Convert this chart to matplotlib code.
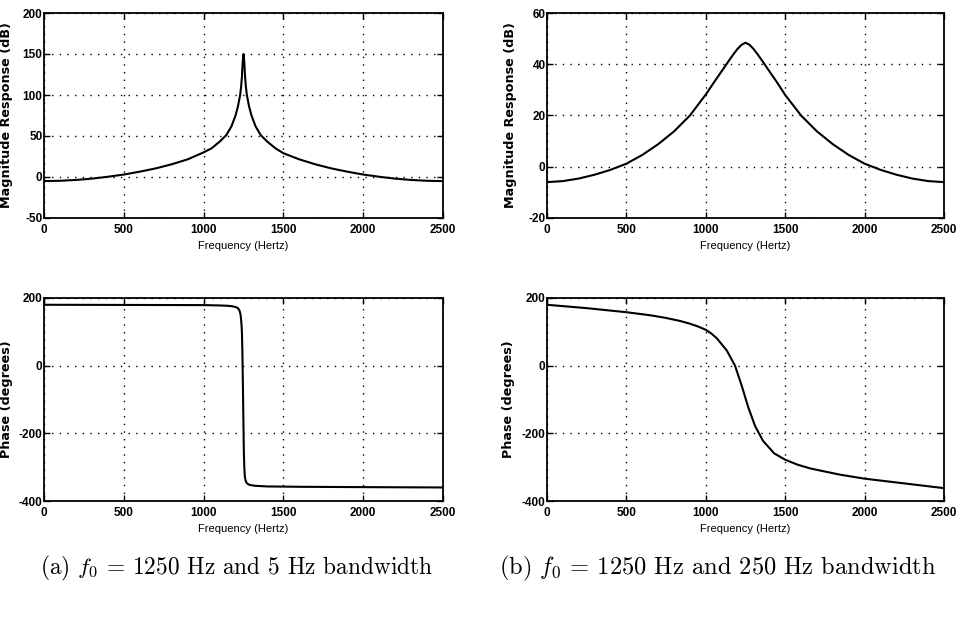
import matplotlib
matplotlib.use("Agg")
import matplotlib.pyplot as plt

# Frequency response of two resonators, f0 = 1250 Hz
freq_mag_a = [0, 100, 200, 300, 400, 500, 600, 700, 800, 900, 1000, 1050, 1100, 1142,
              1175, 1200, 1215, 1229, 1235, 1240, 1245, 1250, 1255, 1260, 1265, 1271,
              1285, 1300, 1325, 1358, 1400, 1450, 1500, 1600, 1700, 1800, 1900, 2000,
              2100, 2200, 2300, 2400, 2500]
mag_a = [-5, -4.6, -3.6, -2, 0.3, 3, 6.5, 10.5, 15.5, 21.5, 30, 35, 43, 51,
         62, 75, 86, 100, 110, 122, 140, 150, 140, 122, 110, 100,
         86, 75, 62, 51, 43, 35, 29, 21.5, 15.5, 10.5, 6.5, 3,
         0.3, -2, -3.6, -4.6, -5]

freq_phase_a = [0, 500, 1000, 1100, 1150, 1180, 1200, 1215, 1225, 1232, 1237, 1240,
                1243, 1246, 1249, 1252, 1255, 1258, 1262, 1270, 1285, 1320, 1400,
                1600, 2000, 2500]
phase_a = [180, 179.5, 179, 178, 177, 175.5, 173.5, 170, 163, 150, 125, 100,
           40, -50, -150, -250, -300, -325, -338, -347, -352, -355, -357,
           -358, -359, -360]

freq_mag_b = [0, 100, 200, 300, 400, 500, 600, 700, 800, 900, 1000, 1050, 1100,
              1150, 1175, 1200, 1225, 1250, 1275, 1300, 1325, 1350, 1400, 1450, 1500,
              1600, 1700, 1800, 1900, 2000, 2100, 2200, 2300, 2400, 2500]
mag_b = [-6, -5.6, -4.6, -3.1, -1.2, 1.2, 4.6, 8.8, 13.8, 20, 28.2, 32.8, 37.3,
         41.8, 44, 46, 47.6, 48.4, 47.6, 46, 44, 41.8, 37.3, 32.8, 28,
         20, 13.8, 8.8, 4.6, 1.2, -1.2, -3.1, -4.6, -5.6, -6]

freq_phase_b = [0, 250, 500, 650, 750, 839, 900, 950, 1000, 1035, 1069, 1132, 1184,
                1226, 1268, 1310, 1360, 1430, 1500, 1580, 1660, 1843, 2000, 2250, 2500]
phase_b = [180, 170, 158, 149, 141, 132, 124, 116, 106, 95, 81, 45, 0,
           -59, -124, -178, -222, -259, -278, -293, -304, -322, -334, -348, -362]

xticks = [0, 500, 1000, 1500, 2000, 2500]
yticks_mag_a = [-50, 0, 50, 100, 150, 200]
yticks_mag_b = [-20, 0, 20, 40, 60]
yticks_phase = [-400, -200, 0, 200]

captions = [r"(a) $f_0$ = 1250 Hz and 5 Hz bandwidth",
            r"(b) $f_0$ = 1250 Hz and 250 Hz bandwidth"]

plt.rcParams["mathtext.fontset"] = "cm"
plt.rcParams["axes.unicode_minus"] = False

W, H = 960, 619
fig = plt.figure(figsize=(W / 100, H / 100), dpi=100)


def px_axes(x0, x1, y0, y1):
    return fig.add_axes([x0 / W, 1 - y1 / H, (x1 - x0) / W, (y1 - y0) / H])


def style(ax, yticks, ylabel, label_x):
    ax.set_xlim(0, 2500)
    ax.set_ylim(yticks[0], yticks[-1])
    ax.set_xticks(xticks)
    ax.set_yticks(yticks)
    ax.grid(True, color="black", linestyle=(0, (1, 4.5)), linewidth=1.0)
    ax.tick_params(direction="in", top=True, right=True, length=4, width=1,
                   colors="black")
    ax.tick_params(axis="x", pad=4)
    ax.tick_params(axis="y", pad=1)
    for lab in ax.get_xticklabels() + ax.get_yticklabels():
        lab.set_fontfamily(["Liberation Sans", "DejaVu Sans"])
        lab.set_fontweight("bold")
        lab.set_fontsize(8.5)
    for s in ax.spines.values():
        s.set_linewidth(1.3)
    ax.set_xlabel("Frequency (Hertz)", family=["Liberation Sans", "DejaVu Sans"],
                  fontsize=8, labelpad=4)
    ax.set_ylabel(ylabel, family="DejaVu Sans", fontweight="bold", fontsize=9.2)
    ax.yaxis.set_label_coords(label_x, 0.5)


ax1 = px_axes(44, 443, 13, 218)
ax1.plot(freq_mag_a, mag_a, color="black", linewidth=1.5)
style(ax1, yticks_mag_a, "Magnitude Response (dB)", (13 - 44) / 399)

ax2 = px_axes(547, 944, 13, 218)
ax2.plot(freq_mag_b, mag_b, color="black", linewidth=1.5)
style(ax2, yticks_mag_b, "Magnitude Response (dB)", (517 - 547) / 397)

ax3 = px_axes(44, 443, 298, 501)
ax3.plot(freq_phase_a, phase_a, color="black", linewidth=1.5)
style(ax3, yticks_phase, "Phase (degrees)", (13 - 44) / 399)

ax4 = px_axes(547, 944, 298, 501)
ax4.plot(freq_phase_b, phase_b, color="black", linewidth=1.5)
style(ax4, yticks_phase, "Phase (degrees)", (515 - 547) / 397)

fig.text(237 / W, 1 - 568 / H, captions[0], ha="center", va="center",
         family="cmr10", fontsize=16.8)
fig.text(718 / W, 1 - 568 / H, captions[1], ha="center", va="center",
         family="cmr10", fontsize=17.6)

fig.savefig("out.png", dpi=100, facecolor="white")
